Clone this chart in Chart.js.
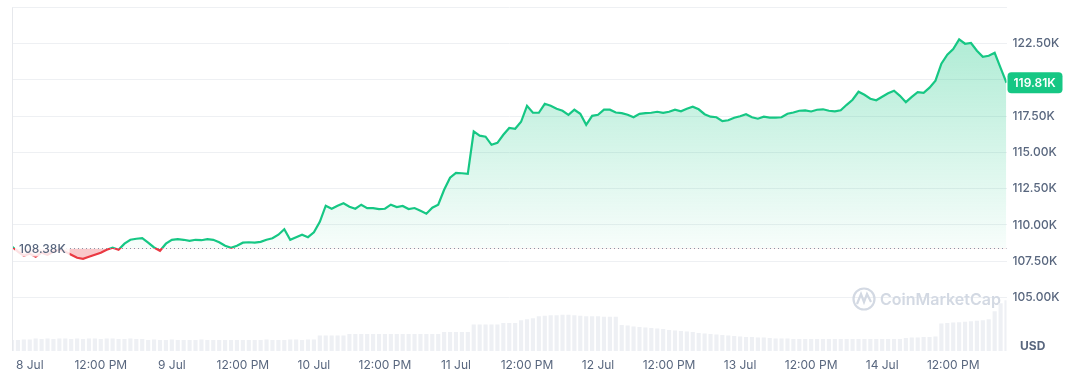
<!DOCTYPE html>
<html>
<head>
<meta charset="utf-8">
<script src="https://cdn.jsdelivr.net/npm/chart.js@4/dist/chart.umd.min.js"></script>
<style>
  html, body { margin: 0; padding: 0; background: #fff; }
  #wrap { width: 1068px; height: 373px; position: relative; }
</style>
</head>
<body>
<div id="wrap"><canvas id="priceChart"></canvas></div>
<script>
// hourly BTC price (thousands USD), from 7 Jul 21:00 to 14 Jul 21:00
const startHour = 21; // hours after 7 Jul 00:00
const priceK = [
  108.52, 108.16, 107.88, 108.02, 107.81, 108.09, 107.95, 108.16, 108.29, 108.16,
  107.95, 107.74, 107.67, 107.81, 107.95, 108.09, 108.29, 108.43, 108.29, 108.71,
  108.98, 109.05, 109.09, 108.78, 108.45, 108.22, 108.71, 108.98, 109.02, 108.98,
  108.91, 108.98, 108.95, 109.02, 108.98, 108.81, 108.57, 108.43, 108.57, 108.78,
  108.81, 108.78, 108.84, 108.98, 109.09, 109.33, 109.71, 108.98, 109.16, 109.33,
  109.16, 109.49, 110.22, 111.33, 111.12, 111.33, 111.50, 111.26, 111.12, 111.40,
  111.16, 111.16, 111.09, 111.12, 111.40, 111.24, 111.31, 111.10, 111.17, 110.98,
  110.78, 111.19, 111.40, 112.43, 113.26, 113.60, 113.57, 113.53, 116.45, 116.16,
  116.09, 115.53, 115.67, 116.22, 116.69, 116.64, 117.12, 118.22, 117.74, 117.74,
  118.36, 118.22, 118.02, 117.88, 117.60, 117.95, 117.67, 116.91, 117.53, 117.60,
  117.95, 117.95, 117.76, 117.71, 117.60, 117.43, 117.67, 117.71, 117.74, 117.81,
  117.74, 117.81, 117.95, 117.84, 118.02, 118.16, 117.98, 117.64, 117.47, 117.43,
  117.16, 117.22, 117.40, 117.50, 117.64, 117.43, 117.33, 117.47, 117.41, 117.40,
  117.43, 117.67, 117.76, 117.88, 117.91, 117.83, 117.95, 117.98, 117.88, 117.84,
  117.91, 118.29, 118.64, 119.19, 118.98, 118.71, 118.60, 118.84, 119.09, 119.26,
  118.91, 118.47, 118.84, 119.16, 119.12, 119.47, 119.95, 121.12, 121.74, 122.13,
  122.80, 122.50, 122.55, 122.02, 121.60, 121.67, 121.88, 120.84, 119.81
];
// hourly volume (relative units)
const volume = [
  2.2, 2.2, 2.3, 2.3, 2.5, 2.4, 2.5, 2.4, 2.5, 2.5,
  2.4, 2.5, 2.4, 2.5, 2.5, 2.4, 2.5, 2.5, 2.4, 2.4,
  2.5, 2.4, 2.4, 2.2, 2.3, 2.2, 2.2, 2.3, 2.2, 2.2,
  2.2, 2.2, 2.3, 2.2, 2.2, 2.2, 2.2, 2.2, 2.2, 2.2,
  2.2, 2.2, 2.2, 2.3, 2.2, 2.2, 2.2, 2.3, 2.3, 2.2,
  2.3, 2.3, 3.1, 3.1, 3.1, 3.1, 3.1, 3.4, 3.4, 3.4,
  3.4, 3.4, 3.4, 3.4, 3.4, 3.4, 3.4, 3.4, 3.4, 3.4,
  3.4, 3.4, 3.4, 3.8, 3.8, 3.8, 3.8, 3.8, 5.3, 5.3,
  5.3, 5.3, 5.3, 5.6, 5.6, 5.6, 6.2, 6.4, 6.6, 7.0,
  7.1, 7.2, 7.2, 7.3, 7.3, 7.2, 7.1, 7.0, 7.0, 7.0,
  6.9, 6.9, 6.9, 5.2, 5.1, 4.9, 4.8, 4.7, 4.6, 4.5,
  4.4, 4.2, 4.1, 4.0, 3.9, 3.8, 3.6, 3.5, 3.4, 3.3,
  3.2, 3.1, 3.0, 2.9, 2.8, 2.8, 2.7, 2.7, 2.6, 2.5,
  2.5, 2.5, 2.4, 2.4, 2.4, 2.4, 2.4, 2.4, 2.4, 2.4,
  2.4, 2.4, 2.4, 2.4, 2.4, 2.4, 2.4, 2.4, 2.4, 2.4,
  2.4, 2.6, 2.7, 2.7, 2.8, 2.8, 2.9, 5.5, 5.6, 5.7,
  5.8, 5.9, 6.0, 6.1, 6.2, 6.4, 8.0, 9.6, 10.2
];
const tickHours = [24, 36, 48, 60, 72, 84, 96, 108, 120, 132, 144, 156, 168, 180];
const tickLabels = ["8 Jul", "12:00 PM", "9 Jul", "12:00 PM", "10 Jul", "12:00 PM", "11 Jul",
  "12:00 PM", "12 Jul", "12:00 PM", "13 Jul", "12:00 PM", "14 Jul", "12:00 PM"];
const yTicks = [105, 107.5, 110, 112.5, 115, 117.5, 120, 122.5, 125];
const baseline = 108.38;
const lastPrice = 119.81;

const green = "#16c784";
const red = "#ea3943";
const textGray = "#58667e";

const pricePoints = priceK.map((v, i) => ({ x: startHour + i, y: v }));
const volPoints = volume.map((v, i) => ({ x: startHour + i, y: v }));

function baseY(chart) {
  return chart.scales.y.getPixelForValue(baseline);
}

function lineColor(context) {
  const chart = context.chart;
  const area = chart.chartArea;
  if (!area) return green;
  const f = (baseY(chart) - area.top) / (area.bottom - area.top);
  const g = chart.ctx.createLinearGradient(0, area.top, 0, area.bottom);
  g.addColorStop(0, green);
  g.addColorStop(f, green);
  g.addColorStop(f, red);
  g.addColorStop(1, red);
  return g;
}

function aboveFill(context) {
  const chart = context.chart;
  const area = chart.chartArea;
  if (!area) return "rgba(22,199,132,0.2)";
  const g = chart.ctx.createLinearGradient(0, area.top + 30, 0, baseY(chart));
  g.addColorStop(0, "rgba(22,199,132,0.34)");
  g.addColorStop(1, "rgba(22,199,132,0.03)");
  return g;
}

const overlay = {
  id: "overlay",
  beforeDatasetsDraw(chart) {
    const ctx = chart.ctx;
    ctx.save();
    // watermark
    ctx.strokeStyle = "#d3d9e3";
    ctx.lineWidth = 2.2;
    ctx.beginPath();
    ctx.arc(864, 299, 10.5, 0, Math.PI * 2);
    ctx.stroke();
    ctx.beginPath();
    ctx.moveTo(857, 304);
    ctx.lineTo(861, 294);
    ctx.lineTo(864, 302);
    ctx.lineTo(867, 294);
    ctx.lineTo(871, 302);
    ctx.stroke();
    ctx.fillStyle = "#d3d9e3";
    ctx.font = "600 16px Inter, 'Noto Sans', sans-serif";
    ctx.textBaseline = "middle";
    ctx.textAlign = "left";
    ctx.fillText("CoinMarketCap", 880, 300);
    ctx.restore();
  },
  afterDatasetsDraw(chart) {
    const ctx = chart.ctx;
    const area = chart.chartArea;
    const by = Math.round(baseY(chart)) + 0.5;
    ctx.save();
    // left border
    ctx.strokeStyle = "#e6e8ec";
    ctx.lineWidth = 1;
    ctx.beginPath();
    ctx.moveTo(area.left + 0.5, area.top);
    ctx.lineTo(area.left + 0.5, area.bottom);
    ctx.stroke();
    // dotted baseline
    ctx.strokeStyle = "#8a93a6";
    ctx.setLineDash([1, 3]);
    ctx.beginPath();
    ctx.moveTo(62, by);
    ctx.lineTo(area.right, by);
    ctx.stroke();
    ctx.setLineDash([]);
    // baseline label
    ctx.font = "500 12px Inter, 'Noto Sans', sans-serif";
    const label = baseline.toFixed(2) + "K";
    const w = ctx.measureText(label).width;
    ctx.fillStyle = "rgba(255,255,255,0.85)";
    ctx.fillRect(15, by - 8, w + 8, 16);
    ctx.fillStyle = textGray;
    ctx.textBaseline = "middle";
    ctx.textAlign = "left";
    ctx.fillText(label, 19, by + 1);
    // current price tag
    const py = chart.scales.y.getPixelForValue(lastPrice);
    ctx.fillStyle = green;
    ctx.beginPath();
    ctx.roundRect(area.right + 1, py - 10.5, 55, 21, 4);
    ctx.fill();
    ctx.fillStyle = "#fff";
    ctx.font = "600 12px Inter, 'Noto Sans', sans-serif";
    ctx.fillText(lastPrice.toFixed(2) + "K", area.right + 7, py + 1);
    // currency
    ctx.fillStyle = textGray;
    ctx.font = "700 12px Inter, 'Noto Sans', sans-serif";
    ctx.fillText("USD", 1020, 346);
    ctx.restore();
  }
};

new Chart("priceChart", {
  data: {
    datasets: [{
      type: "line",
      data: pricePoints,
      yAxisID: "y",
      order: 1,
      borderColor: lineColor,
      borderWidth: 2.2,
      pointRadius: 0,
      tension: 0,
      fill: { target: { value: baseline }, above: aboveFill, below: "rgba(234,57,67,0.28)" }
    }, {
      type: "bar",
      data: volPoints,
      yAxisID: "yVol",
      order: 2,
      backgroundColor: "#eef0f4",
      barPercentage: 1,
      categoryPercentage: 0.7
    }]
  },
  options: {
    responsive: true,
    maintainAspectRatio: false,
    animation: false,
    devicePixelRatio: 1,
    layout: { padding: { left: 12, top: 7.5, right: 0, bottom: 0 } },
    plugins: { legend: { display: false }, tooltip: { enabled: false } },
    scales: {
      x: {
        type: "linear",
        min: startHour,
        max: startHour + priceK.length - 1,
        offset: false,
        grid: { display: false, drawTicks: false },
        border: { display: false },
        afterBuildTicks: axis => { axis.ticks = tickHours.map(v => ({ value: v })); },
        afterFit: axis => { axis.height = 22; axis.paddingLeft = 0; axis.paddingRight = 0; },
        ticks: {
          autoSkip: false,
          maxRotation: 0,
          padding: 7,
          color: textGray,
          font: { family: "Inter, 'Noto Sans', sans-serif", size: 12 },
          callback: (v, i) => tickLabels[i]
        }
      },
      y: {
        position: "right",
        min: 101.31,
        max: 125,
        grid: { color: "#eef0f3", drawTicks: false },
        border: { display: false },
        afterBuildTicks: axis => { axis.ticks = yTicks.map(v => ({ value: v })); },
        afterFit: axis => { axis.width = 61.5; axis.paddingTop = 0; axis.paddingBottom = 0; },
        ticks: {
          padding: 6,
          color: textGray,
          font: { family: "Inter, 'Noto Sans', sans-serif", size: 12, weight: "500" },
          callback: v => v === 125 ? "" : v.toFixed(2) + "K"
        }
      },
      yVol: {
        display: false,
        min: 0,
        max: 69
      }
    }
  },
  plugins: [overlay]
});
</script>
</body>
</html>
